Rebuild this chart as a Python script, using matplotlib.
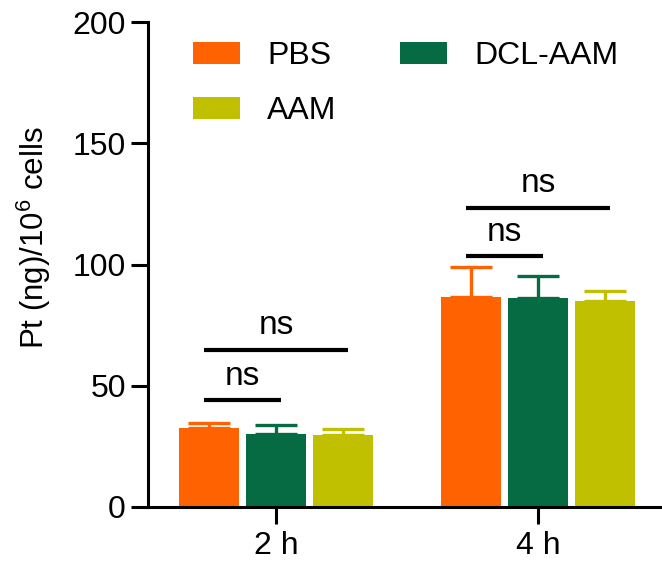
import numpy as np
import matplotlib
matplotlib.use('Agg')
import matplotlib.pyplot as plt

plt.rcParams['font.family'] = ['Liberation Sans', 'DejaVu Sans']
plt.rcParams['mathtext.fontset'] = 'custom'
plt.rcParams['mathtext.rm'] = 'Liberation Sans'
plt.rcParams['mathtext.it'] = 'Liberation Sans'

# data
time_points = ['2 h', '4 h']
groups = ['PBS', 'DCL-AAM', 'AAM']
colors = ['#FF6200', '#066A43', '#C0C000']
means = [[32.5, 86.8],   # PBS
         [30.0, 86.0],   # DCL-AAM
         [29.7, 84.9]]   # AAM
errors = [[2.3, 12.0],
          [3.8, 9.1],
          [2.3, 4.2]]
# significance brackets: (time index, bar a, bar b, height, label)
sig_lines = [(0, 0, 1, 44.0, 'ns'), (0, 0, 2, 64.8, 'ns'),
             (1, 0, 1, 103.5, 'ns'), (1, 0, 2, 123.4, 'ns')]

fig = plt.figure(figsize=(6.62, 5.66), dpi=100)
ax = fig.add_axes([148/662, 1-507/566, 512/662, 485/566])

x = np.arange(len(time_points))
width = 0.229
step = 0.256
handles = {}
for i, g in enumerate(groups):
    pos = x + (i - 1) * step
    b = ax.bar(pos, means[i], width, color=colors[i], label=g, zorder=2)
    handles[g] = b
    ax.errorbar(pos, means[i], yerr=[np.zeros(len(x)), errors[i]], fmt='none',
                ecolor=colors[i], elinewidth=2.4, capsize=15, capthick=2.4, zorder=1)

for t, a, b, h, lab in sig_lines:
    x1 = x[t] + (a - 1) * step - 0.02
    x2 = x[t] + (b - 1) * step + 0.02
    ax.plot([x1, x2], [h, h], color='black', lw=3, solid_capstyle='butt')
    ax.text((x1 + x2) / 2, h + 3.5, lab, ha='center', va='bottom', fontsize=24)

ax.set_xlim(-0.489, 1.466)
ax.set_ylim(0, 200)
ax.set_yticks([0, 50, 100, 150, 200])
ax.set_xticks(x)
ax.set_xticklabels(time_points)
ax.tick_params(axis='both', labelsize=23, length=12, width=2.2, direction='out')
ax.tick_params(axis='x', pad=5)
ax.tick_params(axis='y', pad=4)
for s in ['top', 'right']:
    ax.spines[s].set_visible(False)
for s in ['left', 'bottom']:
    ax.spines[s].set_linewidth(2.2)

ax.set_ylabel(r'Pt (ng)/10$^{6}$ cells', fontsize=22.5)
ax.yaxis.set_label_coords(-0.186, 0.555)

leg = fig.legend([handles['PBS'], handles['AAM'], handles['DCL-AAM']],
                 ['PBS', 'AAM', 'DCL-AAM'], ncol=2, frameon=False, fontsize=23,
                 loc='upper left', bbox_to_anchor=(193/662, 1-41/566),
                 borderpad=0, borderaxespad=0, handlelength=1.47, handleheight=0.69,
                 handletextpad=0.85, columnspacing=2.0, labelspacing=0.78)

fig.savefig('out.png', dpi=100)
